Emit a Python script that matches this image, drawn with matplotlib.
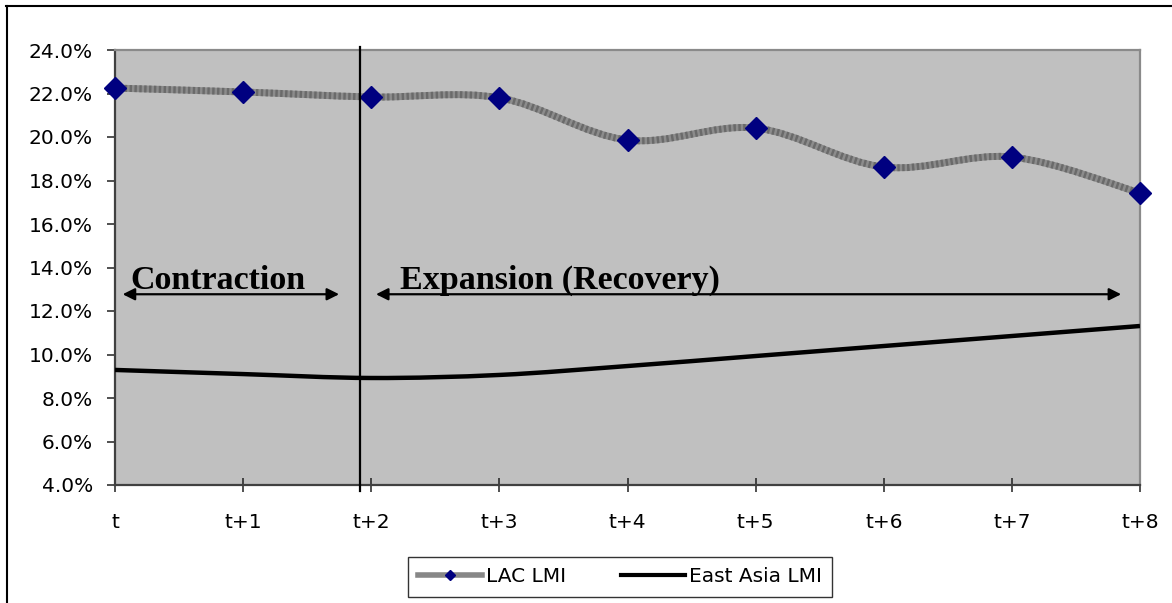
import numpy as np
import matplotlib
matplotlib.use("Agg")
import matplotlib.pyplot as plt
from matplotlib.path import Path
from matplotlib.patches import PathPatch
from matplotlib.lines import Line2D
from matplotlib.ticker import PercentFormatter

# LMI (% of GDP) over the cycle, t = trough of the cycle
periods = ["t", "t+1", "t+2", "t+3", "t+4", "t+5", "t+6", "t+7", "t+8"]
lac_lmi = [22.25, 22.07, 21.84, 21.80, 19.86, 20.41, 18.62, 19.08, 17.43]
east_asia_lmi = [9.29, 9.10, 8.92, 9.06, 9.47, 9.93, 10.39, 10.85, 11.31]
y_ticks = [4, 6, 8, 10, 12, 14, 16, 18, 20, 22, 24]

turning_point = 1.916
phase_labels = ["Contraction", "Expansion (Recovery)"]

plt.rcParams["font.family"] = ["DejaVu Sans"]


def smooth_path(xs, ys):
    """Catmull-Rom style cubic Bezier through the points (like Excel's smoothed line)."""
    pts = np.column_stack([xs, ys]).astype(float)
    ext = np.vstack([pts[0], pts, pts[-1]])
    verts = [pts[0]]
    codes = [Path.MOVETO]
    for i in range(len(pts) - 1):
        p0, p1, p2, p3 = ext[i], ext[i + 1], ext[i + 2], ext[i + 3]
        verts += [p1 + (p2 - p0) / 6.0, p2 - (p3 - p1) / 6.0, p2]
        codes += [Path.CURVE4] * 3
    return Path(verts, codes)


fig = plt.figure(figsize=(11.72, 6.03), dpi=100)
ax = fig.add_axes([115 / 1172, 1 - 485 / 603, 1025 / 1172, 435 / 603])
ax.set_facecolor("#c0c0c0")

x = np.arange(len(periods))

# LAC: thick patterned grey line with navy diamonds
lac_path = smooth_path(x, lac_lmi)
ax.add_patch(PathPatch(lac_path, fill=False, lw=5.0,
                       edgecolor="#8c8c8c", capstyle="butt", zorder=3))
ax.add_patch(PathPatch(lac_path, fill=False, lw=5.0, edgecolor="#6a6a6a",
                       linestyle=(0, (0.35, 0.35)), capstyle="butt", zorder=3))
ax.plot(x, lac_lmi, linestyle="none", marker="D", ms=11,
        color="#000080", zorder=4, clip_on=False)

# East Asia: plain black line
ax.add_patch(PathPatch(smooth_path(x, east_asia_lmi), fill=False, lw=3.2,
                       edgecolor="black", capstyle="butt", zorder=3))

# turning point of the cycle
ax.axvline(turning_point, ymin=-0.014, ymax=1.007, color="black", lw=1.6,
           clip_on=False, zorder=5)

arrow_kw = dict(arrowstyle="<|-|>,head_length=0.4,head_width=0.2",
                mutation_scale=18, lw=1.6, color="black",
                shrinkA=0, shrinkB=0)
ax.annotate("", xy=(1.749, 12.77), xytext=(0.060, 12.77), arrowprops=arrow_kw)
ax.annotate("", xy=(7.853, 12.77), xytext=(2.037, 12.77), arrowprops=arrow_kw)

serif = dict(family="Liberation Serif", fontweight="bold", fontsize=24.5,
             va="baseline", ha="left")
ax.text(0.117, 13.01, phase_labels[0], **serif)
ax.text(2.225, 13.01, phase_labels[1], **serif)

ax.set_xlim(0, len(periods) - 1)
ax.set_ylim(y_ticks[0], y_ticks[-1])
ax.set_xticks(x)
ax.set_xticklabels(periods)
ax.set_yticks(y_ticks)
ax.yaxis.set_major_formatter(PercentFormatter(decimals=1))

ax.tick_params(axis="x", direction="inout", length=10, width=1.1,
               pad=15, labelsize=14.5, color="#202020")
ax.tick_params(axis="y", direction="out", length=6, width=1.1,
               pad=10, labelsize=14.5, color="#202020")

for side in ("left", "bottom"):
    ax.spines[side].set_color("#404040")
    ax.spines[side].set_linewidth(1.6)
for side in ("top", "right"):
    ax.spines[side].set_color("#8a8a8a")
    ax.spines[side].set_linewidth(1.6)

handles = [
    Line2D([], [], color="#878787", lw=4.0, marker="D", ms=5,
           markerfacecolor="#000080", markeredgecolor="#000080"),
    Line2D([], [], color="black", lw=3.0),
]
leg = fig.legend(handles, ["LAC LMI", "East Asia LMI"], ncol=2,
                 loc="center", bbox_to_anchor=(620 / 1172, 1 - 577 / 603),
                 frameon=True, fancybox=False, edgecolor="black",
                 fontsize=14.5, handlelength=3.2, handletextpad=0.2,
                 columnspacing=2.7, borderpad=0.5, borderaxespad=0)
leg.get_frame().set_linewidth(1.0)

# outer chart border (top and left edges)
fig.add_artist(Line2D([6 / 1172, 1.0], [1 - 6 / 603, 1 - 6 / 603],
                      transform=fig.transFigure, color="black", lw=1.5))
fig.add_artist(Line2D([6.5 / 1172, 6.5 / 1172], [0.0, 1 - 6 / 603],
                      transform=fig.transFigure, color="black", lw=1.5))

fig.savefig("out.png", dpi=100)
